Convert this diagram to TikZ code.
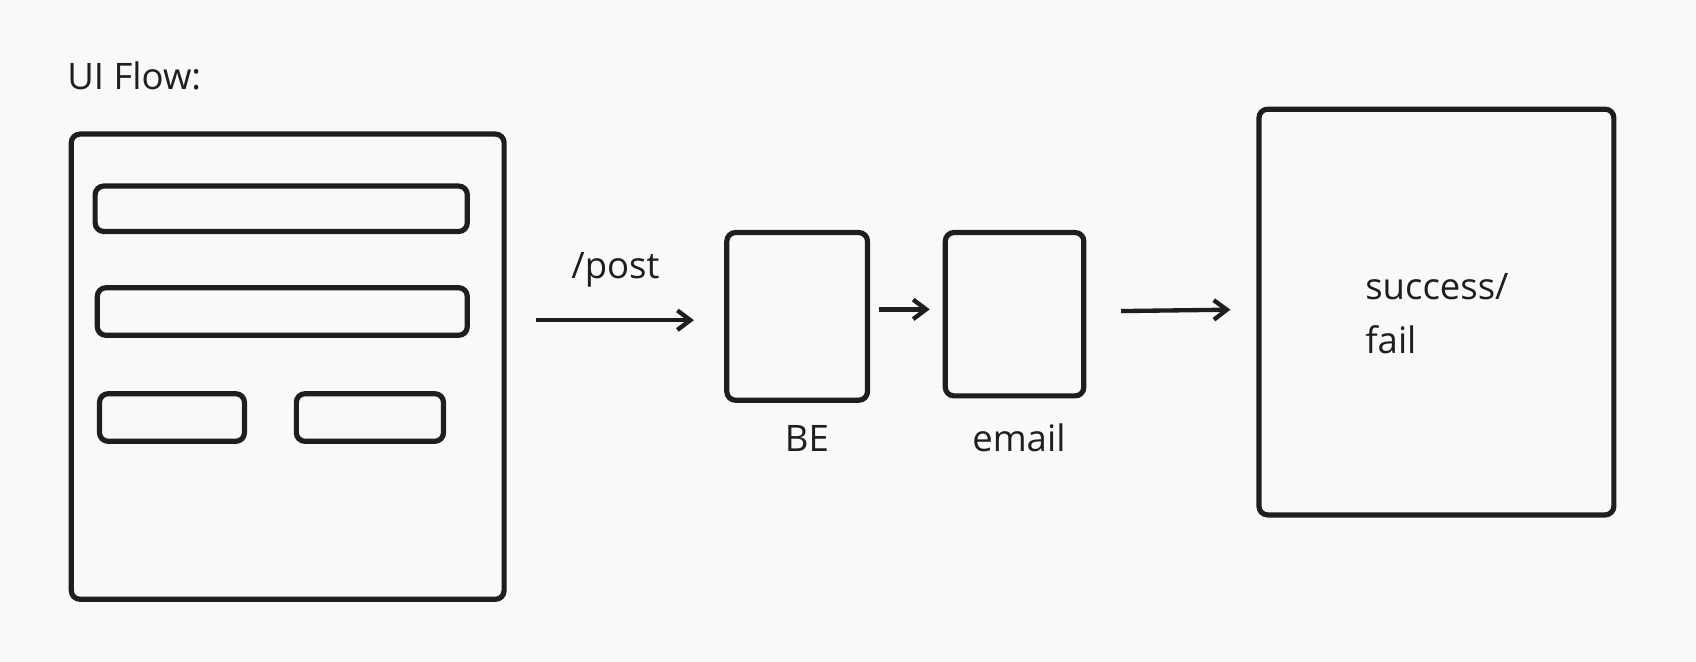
\documentclass[tikz,border=0pt]{standalone}
\usepackage{fontspec}
\setmainfont{Open Sans}
\usetikzlibrary{arrows.meta}
\definecolor{bgcol}{HTML}{F8F9FB}
\definecolor{inkcol}{HTML}{1E1E1E}
\tikzset{
  panel/.style={draw=inkcol,line width=0.12cm,rounded corners=0.2cm,inner sep=0pt},
  label/.style={font=\fontsize{24}{32}\selectfont,text=inkcol,inner sep=0pt},
  flow/.style={draw=inkcol,line width=0.1cm,-{Straight Barb[length=0.3cm,width=0.45cm]}}
}
\begin{document}
\begin{tikzpicture}[x=0.025cm,y=-0.025cm]
\fill[bgcol] (0,0) rectangle (1568,612);
% form screen
\node[label,anchor=west] (title) at (62,70) {UI Flow:};
\node[panel,minimum width=10.0cm,minimum height=10.75cm] (form) at (266,339) {};
\node[panel,minimum width=8.6cm,minimum height=1.05cm] (field1) at (260,193) {};
\node[panel,minimum width=8.55cm,minimum height=1.1cm] (field2) at (261,288) {};
\node[panel,minimum width=3.35cm,minimum height=1.1cm] (btn1) at (159,386) {};
\node[panel,minimum width=3.4cm,minimum height=1.1cm] (btn2) at (342,386) {};
% backend
\node[panel,minimum width=3.25cm,minimum height=3.875cm] (be) at (737,292.5) {};
\node[panel,minimum width=3.2cm,minimum height=3.775cm] (email) at (938,290.5) {};
\node[label] (belabel) at (746,405) {BE};
\node[label] (emaillabel) at (942,405) {email};
% result screen
\node[panel,minimum width=8.2cm,minimum height=9.375cm] (result) at (1328,288.5) {};
\node[label,anchor=west,align=left] (resulttext) at (1262,290) {success/\\[4pt]fail};
% connectors
\draw[flow,shorten <=0.675cm,shorten >=0.7cm] (form.east |- 0,296) -- (be.west |- 0,296)
  node[label,midway,above=0.7cm] (post) {/post};
\draw[flow,shorten <=0.2cm,shorten >=0.3cm] (be.east |- 0,286) -- (email.west |- 0,286);
\draw[flow,shorten <=0.8cm,shorten >=0.6cm] (email.east |- 0,288) -- (result.west |- 0,286);
\end{tikzpicture}
\end{document}
